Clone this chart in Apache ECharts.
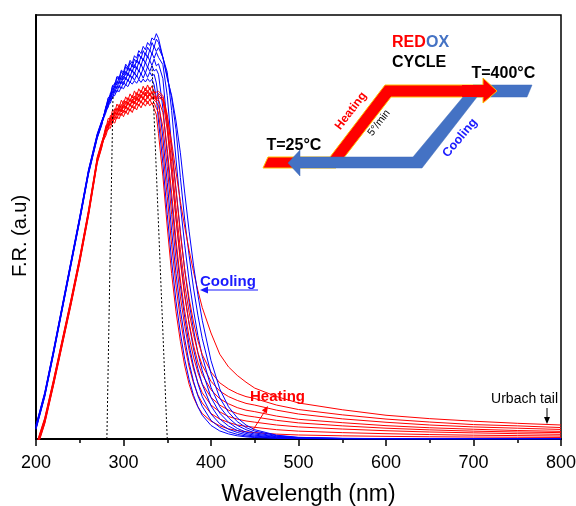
<!DOCTYPE html>
<html>
<head>
<meta charset="utf-8">
<script src="https://cdn.jsdelivr.net/npm/echarts/dist/echarts.min.js"></script>
<style>
  html, body { margin: 0; padding: 0; background: #fff; }
  #chart { width: 576px; height: 506px; }
</style>
</head>
<body>
<div id="chart"></div>
<script>
// Wavelength grid (nm) shared by every spectrum
const wavelengths = [200, 210, 220, 230, 240, 250, 260, 270, 275,
  280, 282.5, 285, 287.5, 290, 292.5, 295, 297.5, 300, 302.5, 305, 307.5, 310, 312.5, 315, 317.5,
  320, 322.5, 325, 327.5, 330, 332.5, 335, 337.5,
  340, 345, 350, 355, 360, 365, 370, 375, 380, 385, 390, 400, 410, 420, 430, 440, 450, 475, 500,
  550, 600, 650, 700, 750, 800];

// Cooling runs (F.R., arbitrary units)
const cooling1 = [2.7, 10.4, 20.4, 30.9, 41.4, 51.9, 62.9, 71.4, 74.4,
  77, 78.8, 79.2, 80.9, 81, 82.3, 81.9, 83, 82.6, 83.6, 83.1, 84.2, 83.7, 84.5, 83.9, 84.8, 84.1, 84.9, 84.2, 85, 84.3, 84.8, 83.5, 80.5,
  75, 65, 53, 42, 32.5, 25, 18.8, 14, 10.3, 7.6, 5.6, 3.2, 1.9, 1.2, 0.75, 0.5, 0.35, 0.15, 0.08, 0.05, 0.05, 0.05, 0.05, 0.05, 0.05];
const cooling2 = [3.3, 11, 21, 31.5, 42, 52.5, 63.5, 72, 75,
  77.5, 78.2, 80.4, 80.3, 82.3, 81.8, 83.4, 82.7, 84.3, 83.4, 84.8, 84, 85.5, 84.6, 85.8, 84.8, 86.2, 85.1, 86.4, 85.3, 86.5, 85.6, 86, 84,
  80, 71, 60.5, 49.1, 39, 30.5, 23.6, 18, 13.6, 10.2, 7.7, 4.4, 2.75, 1.7, 1.1, 0.7, 0.5, 0.22, 0.1, 0.05, 0.05, 0.05, 0.05, 0.05, 0.05];
const cooling3 = [3, 10.7, 20.7, 31.2, 41.7, 52.2, 63.2, 71.7, 74.7,
  77.8, 79.6, 79.7, 81.9, 81.6, 83.3, 82.8, 84.5, 83.6, 85.3, 84.3, 85.9, 85.1, 86.5, 85.4, 87, 86, 87.4, 86.3, 87.8, 86.7, 88, 86.8, 87.2,
  86, 78, 67.1, 56.1, 45.5, 36.2, 28.6, 22.2, 17.2, 13.1, 10, 5.9, 3.6, 2.3, 1.55, 0.97, 0.68, 0.31, 0.15, 0.06, 0.06, 0.06, 0.06, 0.06, 0.06];
const cooling4 = [2.4, 10.1, 20.1, 30.6, 41.1, 51.6, 62.6, 71.1, 74.1,
  78.1, 78.8, 81.1, 81.1, 83.2, 82.6, 84.5, 83.8, 85.6, 84.7, 86.4, 85.3, 87.1, 86, 87.8, 86.6, 88.4, 87.2, 88.9, 87.6, 89.3, 88.1, 89.6, 88,
  88.5, 85, 74, 63, 52.1, 42.5, 34, 27.1, 21.2, 16.6, 12.9, 7.8, 4.75, 3.05, 2, 1.3, 0.9, 0.41, 0.2, 0.08, 0.06, 0.06, 0.06, 0.06, 0.06];
const cooling5 = [3.15, 10.85, 20.85, 31.35, 41.85, 52.35, 63.35, 71.85, 74.85,
  77.6, 80, 80.2, 82.7, 82.3, 84.4, 83.8, 85.7, 84.8, 86.7, 85.6, 87.5, 86.5, 88.3, 87.2, 89, 88, 89.8, 88.6, 90.4, 89.2, 91, 89.8, 91.2,
  90, 88.3, 81, 69, 59, 48.9, 39.8, 32.2, 25.8, 20.3, 16.1, 9.8, 6.1, 3.95, 2.5, 1.63, 1.17, 0.52, 0.25, 0.1, 0.07, 0.07, 0.07, 0.07, 0.07];
const cooling6 = [2.25, 9.95, 19.95, 30.45, 40.95, 51.45, 62.45, 70.95, 73.95,
  78.5, 79.1, 81.6, 81.7, 84, 83.5, 85.6, 84.7, 86.7, 85.8, 87.7, 86.8, 88.5, 87.5, 89.4, 88.4, 90.3, 89.2, 91.1, 89.9, 91.8, 90.8, 92.6, 91.4,
  92.3, 90, 86.5, 77.5, 66, 55.1, 45.7, 37.3, 30.4, 24.4, 19.5, 12.2, 7.6, 5, 3.2, 2.2, 1.45, 0.64, 0.29, 0.12, 0.08, 0.08, 0.08, 0.08, 0.08];
const cooling7 = [2.85, 10.55, 20.55, 31.05, 41.55, 52.05, 63.05, 71.55, 74.55,
  78, 80.5, 80.7, 83.3, 83, 85.3, 84.6, 86.7, 85.8, 87.9, 86.9, 88.8, 87.7, 89.6, 88.7, 90.8, 89.7, 91.6, 90.5, 92.4, 91.5, 93.5, 92.4, 94.3,
  93.5, 90, 85.5, 80.5, 73, 61.7, 51.6, 43.3, 35.6, 29.2, 23.7, 15.4, 9.7, 6.3, 4.1, 2.7, 1.86, 0.78, 0.33, 0.14, 0.09, 0.09, 0.09, 0.09, 0.09];
const cooling8 = [2.55, 10.25, 20.25, 30.75, 41.25, 51.75, 62.75, 71.25, 74.25,
  78.5, 80.3, 81.2, 83.4, 83.6, 85.5, 85.2, 87, 86.5, 88.4, 87.7, 89.3, 88.6, 90.4, 89.8, 91.6, 90.9, 92.6, 91.8, 93.5, 92.8, 94.6, 94.1, 95.6,
  94.5, 90, 85, 81, 75, 67.5, 58, 49, 41, 34, 28, 18.5, 11.8, 7.6, 5, 3.3, 2.2, 0.9, 0.4, 0.15, 0.1, 0.1, 0.1, 0.1, 0.1];

// Heating runs (F.R., arbitrary units)
const heating1 = [-1.9, 4.6, 13.6, 23.1, 32.6, 42.6, 53.6, 66.1, 69.6,
  71.6, 73.4, 73.3, 75, 74.5, 76.1, 75.5, 76.9, 76, 77.4, 76.5, 77.9, 77, 78.4, 77.6, 79, 78.1, 79.3, 78.5, 79.6, 78.6, 79.3, 77.9, 76.5,
  72, 62, 50, 39, 30, 23, 17.2, 12.9, 9.8, 7.6, 6, 4.2, 3.1, 2.4, 2, 1.7, 1.5, 1.15, 0.95, 0.75, 0.62, 0.53, 0.46, 0.41, 0.36];
const heating2 = [-1.5, 5, 14, 23.5, 33, 43, 54, 66.5, 70,
  72.8, 72.9, 74.8, 74.4, 76.1, 75.5, 77, 76.3, 77.6, 76.8, 78.2, 77.3, 78.7, 77.9, 79.3, 78.5, 79.8, 78.9, 80.2, 79.1, 80.1, 79, 79.3, 78,
  77, 68, 57.2, 45.8, 36.1, 28.2, 22, 17, 13.2, 10.4, 8.5, 6, 4.7, 3.9, 3.3, 3, 2.75, 2.2, 1.85, 1.5, 1.25, 1.05, 0.9, 0.8, 0.7];
const heating3 = [-2.3, 4.2, 13.2, 22.7, 32.2, 42.2, 53.2, 65.7, 69.2,
  72.2, 74.3, 74.1, 76, 75.3, 77.1, 76.3, 78, 77, 78.6, 77.5, 79.1, 78.1, 79.7, 78.7, 80.3, 79.2, 80.7, 79.6, 81, 79.8, 80.8, 79.9, 79.5,
  78.5, 73.6, 64.2, 53, 42.3, 33.5, 26.6, 20.9, 16.5, 13.3, 10.9, 8, 6.4, 5.3, 4.7, 4.25, 3.97, 3.3, 2.85, 2.35, 1.95, 1.65, 1.45, 1.25, 1.1];
const heating4 = [-1.7, 4.8, 13.8, 23.3, 32.8, 42.8, 53.8, 66.3, 69.8,
  73.4, 73.5, 75.5, 75.1, 77, 76.3, 78, 77.1, 78.7, 77.8, 79.4, 78.4, 79.9, 79, 80.5, 79.5, 81.1, 80, 81.5, 80.3, 81.6, 80.1, 80.8, 79.8,
  80, 77, 68.5, 58, 47, 37.5, 30.1, 24, 19.3, 15.7, 13, 9.8, 8, 6.8, 6, 5.5, 5.2, 4.4, 3.8, 3.1, 2.55, 2.15, 1.85, 1.65, 1.5];
const heating5 = [-2.7, 3.8, 12.8, 22.3, 31.8, 41.8, 52.8, 65.3, 68.8,
  72.8, 74.9, 74.8, 76.8, 76.2, 78.1, 77.2, 78.9, 78, 79.7, 78.7, 80.3, 79.2, 80.9, 79.8, 81.4, 80.4, 82, 80.9, 82.2, 80.9, 82, 80.3, 80.6,
  81, 80, 72.8, 63, 51.8, 41.7, 33.6, 27.3, 22.1, 18.1, 15.2, 11.6, 9.5, 8.3, 7.4, 6.8, 6.45, 5.4, 4.65, 3.85, 3.15, 2.65, 2.3, 2, 1.8];
const heating6 = [-2.1, 4.4, 13.4, 22.9, 32.4, 42.4, 53.4, 65.9, 69.4,
  74, 74.1, 76.3, 75.9, 77.9, 77.2, 78.9, 78.1, 79.8, 78.9, 80.5, 79.5, 81.1, 80.1, 81.7, 80.6, 82.3, 81.2, 82.8, 81.5, 82.9, 81.3, 82.1, 80,
  81.5, 80.5, 74.5, 65.5, 54.6, 44.6, 36.3, 29.9, 24.6, 20.4, 17.4, 13.6, 11.3, 10, 9.1, 8.4, 8, 6.8, 5.9, 4.75, 3.95, 3.3, 2.85, 2.55, 2.25];
const heating7 = [-2.5, 4, 13, 22.5, 32, 42, 53, 65.5, 69,
  73.4, 75.6, 75.5, 77.6, 77.1, 79, 78.1, 79.9, 79, 80.7, 79.8, 81.4, 80.4, 82.1, 81, 82.6, 81.6, 83.2, 82.1, 83.5, 82.3, 83.3, 81.6, 81.8,
  82, 81, 76.5, 68, 58.7, 48.5, 39.9, 33.1, 27.6, 23.2, 19.9, 15.8, 13.25, 11.8, 10.75, 10, 9.55, 8, 6.95, 5.7, 4.7, 4, 3.4, 3.1, 2.7];
const heating8 = [-2.9, 3.6, 12.6, 22.1, 31.6, 41.6, 52.6, 65.1, 68.6,
  73.5, 73.6, 75.7, 75.2, 77.2, 76.4, 78.2, 77.3, 78.9, 78, 79.6, 78.6, 80.2, 79.1, 80.8, 79.7, 81.3, 80.2, 81.8, 80.5, 81.7, 80.4, 81, 80.2,
  80.5, 80, 76, 70, 63, 56, 50, 44.5, 39.5, 35, 31, 25, 20, 17, 15, 13.4, 12, 10, 8.5, 6.9, 5.6, 4.8, 4.2, 3.7, 3.3];

// Dotted guides bracketing the absorption band: [wavelength, F.R.]
const guideLow = [[281, 0], [288, 81]];
const guideHigh = [[350, 0], [332.6, 88]];

// Axis extent and tick step
const xExtent = [200, 800];
const xStep = 100;
const yExtent = [0, 100];

const coolingRuns = [cooling1, cooling2, cooling3, cooling4, cooling5, cooling6, cooling7, cooling8];
const heatingRuns = [heating1, heating2, heating3, heating4, heating5, heating6, heating7, heating8];

const FONT = 'Arial, "Liberation Sans", Helvetica, sans-serif';
const RED = '#ff0000';
const BLUE = '#0000ff';

function toPairs(values) {
  return wavelengths.map((w, i) => [w, values[i]]);
}

function spectrum(name, values, color) {
  return {
    name: name,
    type: 'line',
    data: toPairs(values),
    showSymbol: false,
    symbol: 'none',
    clip: true,
    silent: true,
    lineStyle: { color: color, width: 1 },
    z: 3
  };
}

const series = [];
for (let i = 0; i < coolingRuns.length; i++) {
  series.push(spectrum('heating' + (i + 1), heatingRuns[i], RED));
  series.push(spectrum('cooling' + (i + 1), coolingRuns[i], BLUE));
}
[guideLow, guideHigh].forEach((g, i) => {
  series.push({
    name: 'guide' + i,
    type: 'line',
    data: g,
    showSymbol: false,
    symbol: 'none',
    silent: true,
    lineStyle: { color: '#000', width: 1, type: [2, 2] },
    z: 4
  });
});

function label(text, x, y, opts) {
  return {
    type: 'text',
    x: x, y: y,
    rotation: opts.rotation || 0,
    z: 20,
    style: {
      text: text,
      fill: opts.color || '#000',
      fontSize: opts.size,
      fontWeight: opts.weight || 'normal',
      fontFamily: FONT,
      align: opts.align || 'left',
      verticalAlign: 'middle'
    }
  };
}

const inset = [
  // heating path (red band, behind the blue one)
  { type: 'polygon', z: 10,
    shape: { points: [[263, 168], [268, 157], [330, 157], [385, 85], [485, 85], [485, 97], [391, 97], [336, 168]] },
    style: { fill: '#ff0000', stroke: '#ffc000', lineWidth: 1 } },
  // cooling path (blue band with arrow head)
  { type: 'polygon', z: 11,
    shape: { points: [[288, 163], [300, 150], [300, 157], [413, 157], [473, 85], [532, 85], [527, 97], [477, 97], [422, 168], [300, 168], [300, 176]] },
    style: { fill: '#4472c4', stroke: '#3f6ab8', lineWidth: 0.5 } },
  // heating arrow head over the blue band
  { type: 'polygon', z: 12,
    shape: { points: [[462, 85], [483, 85], [483, 78], [497, 91], [483, 103], [483, 97], [462, 97]] },
    style: { fill: '#ff0000' } },
  { type: 'polyline', z: 12,
    shape: { points: [[483, 85], [483, 78], [497, 91], [483, 103], [483, 97]] },
    style: { stroke: '#ffc000', lineWidth: 1, fill: null } },
  label('RED', 392, 42.5, { size: 16, weight: 'bold', color: '#ff0000' }),
  label('OX', 426, 42.5, { size: 16, weight: 'bold', color: '#4472c4' }),
  label('CYCLE', 392, 62.5, { size: 16, weight: 'bold' }),
  label('T=400°C', 471.5, 74, { size: 16, weight: 'bold' }),
  label('T=25°C', 266.5, 146, { size: 16, weight: 'bold' }),
  label('Heating', 351, 111, { size: 12, weight: 'bold', color: '#ff0000', align: 'center', rotation: 0.918 }),
  label('5°/min', 379, 123, { size: 10.5, align: 'center', rotation: 0.918 }),
  label('Cooling', 460, 138, { size: 12.5, weight: 'bold', color: '#1a1aff', align: 'center', rotation: 0.873 })
];

const notes = [
  label('Cooling', 200, 282, { size: 15, weight: 'bold', color: '#1a1aff' }),
  { type: 'line', z: 20, shape: { x1: 258, y1: 290, x2: 206, y2: 290 }, style: { stroke: '#1a1aff', lineWidth: 1.2 } },
  { type: 'polygon', z: 20, shape: { points: [[200, 290], [208, 286.5], [208, 293.5]] }, style: { fill: '#1a1aff' } },
  label('Heating', 250, 397, { size: 15, weight: 'bold', color: '#ff0000' }),
  { type: 'line', z: 20, shape: { x1: 253, y1: 430, x2: 265, y2: 411 }, style: { stroke: '#ff0000', lineWidth: 1 } },
  { type: 'polygon', z: 20, shape: { points: [[268, 406], [266.8, 413.5], [261.8, 410.3]] }, style: { fill: '#ff0000' } },
  label('Urbach tail', 558, 399, { size: 14, align: 'right' }),
  { type: 'line', z: 20, shape: { x1: 547, y1: 408, x2: 547, y2: 418 }, style: { stroke: '#000', lineWidth: 1 } },
  { type: 'polygon', z: 20, shape: { points: [[547, 424], [544, 417], [550, 417]] }, style: { fill: '#000' } }
];

const chart = echarts.init(document.getElementById('chart'), null, { renderer: 'canvas' });
chart.setOption({
  animation: false,
  backgroundColor: '#fff',
  grid: {
    left: 36, right: 15, top: 15, bottom: 67,
    containLabel: false, outerBoundsMode: 'none',
    show: true, borderColor: '#000', borderWidth: 1.5, backgroundColor: 'transparent'
  },
  xAxis: {
    type: 'value', min: xExtent[0], max: xExtent[1], interval: xStep,
    axisLine: { onZero: false, lineStyle: { color: '#000', width: 2 } },
    axisTick: { inside: false, length: 7, lineStyle: { color: '#000', width: 1.5 } },
    minorTick: { show: true, splitNumber: 2, length: 4, lineStyle: { color: '#000', width: 1.5 } },
    splitLine: { show: false },
    axisLabel: { color: '#000', fontSize: 18, fontFamily: FONT, margin: 15 },
    name: 'Wavelength (nm)', nameLocation: 'middle', nameGap: 44,
    nameTextStyle: { color: '#000', fontSize: 23, fontFamily: FONT, padding: [0, 0, 0, 20] }
  },
  yAxis: {
    type: 'value', min: yExtent[0], max: yExtent[1],
    axisLine: { show: true, lineStyle: { color: '#000', width: 2 } },
    axisTick: { show: false },
    axisLabel: { show: false },
    splitLine: { show: false },
    name: 'F.R. (a.u)', nameLocation: 'middle', nameGap: 6,
    nameTextStyle: { color: '#000', fontSize: 20, fontFamily: FONT, padding: [0, 18, 0, 0] }
  },
  series: series,
  graphic: inset.concat(notes)
});
</script>
</body>
</html>
